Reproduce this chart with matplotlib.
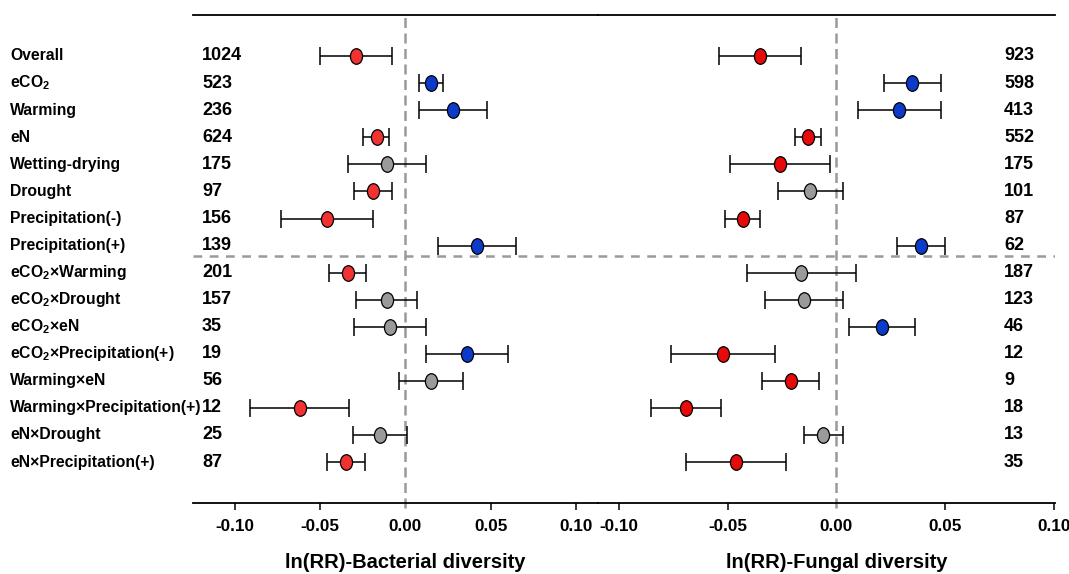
import matplotlib
matplotlib.use("Agg")
import matplotlib.pyplot as plt
from matplotlib import font_manager as fm
from matplotlib.markers import MarkerStyle
from matplotlib.transforms import Affine2D, blended_transform_factory
import numpy as np

# ---------------- data ----------------
labels = ["Overall", "eCO$_2$", "Warming", "eN", "Wetting-drying", "Drought",
          "Precipitation(-)", "Precipitation(+)",
          "eCO$_2$×Warming", "eCO$_2$×Drought", "eCO$_2$×eN",
          "eCO$_2$×Precipitation(+)", "Warming×eN", "Warming×Precipitation(+)",
          "eN×Drought", "eN×Precipitation(+)"]

n_bact = [1024, 523, 236, 624, 175, 97, 156, 139, 201, 157, 35, 19, 56, 12, 25, 87]
n_fung = [923, 598, 413, 552, 175, 101, 87, 62, 187, 123, 46, 12, 9, 18, 13, 35]

bact_mean = [-0.029, 0.015, 0.028, -0.017, -0.011, -0.019, -0.046, 0.042,
             -0.034, -0.011, -0.009, 0.036, 0.015, -0.062, -0.015, -0.035]
bact_lo = [-0.050, 0.008, 0.008, -0.025, -0.034, -0.030, -0.073, 0.019,
           -0.045, -0.029, -0.030, 0.012, -0.004, -0.091, -0.031, -0.046]
bact_hi = [-0.008, 0.022, 0.048, -0.0095, 0.012, -0.008, -0.019, 0.065,
           -0.023, 0.007, 0.012, 0.060, 0.034, -0.033, 0.001, -0.024]

fung_mean = [-0.035, 0.035, 0.029, -0.013, -0.026, -0.012, -0.043, 0.039,
             -0.016, -0.015, 0.021, -0.052, -0.021, -0.069, -0.006, -0.046]
fung_lo = [-0.054, 0.022, 0.010, -0.019, -0.049, -0.027, -0.051, 0.028,
           -0.041, -0.033, 0.006, -0.076, -0.034, -0.085, -0.015, -0.069]
fung_hi = [-0.016, 0.048, 0.048, -0.007, -0.003, 0.003, -0.035, 0.050,
           0.009, 0.003, 0.036, -0.028, -0.008, -0.053, 0.003, -0.023]

xticks = [-0.10, -0.05, 0.00, 0.05, 0.10]
xlabel_bact = "ln(RR)-Bacterial diversity"
xlabel_fung = "ln(RR)-Fungal diversity"

# ---------------- fonts ----------------
names = {f.name for f in fm.fontManager.ttflist}
if "Liberation Sans Narrow" in names:
    fam = "Liberation Sans Narrow"
    fs_row, fs_n, fs_tick, fs_lab = 14, 14.5, 13.5, 16
else:
    fam = "Liberation Sans"
    fs_row, fs_n, fs_tick, fs_lab = 11.3, 13, 12.3, 14.5
plt.rcParams["font.family"] = [fam, "DejaVu Sans"]
plt.rcParams["font.weight"] = "bold"
plt.rcParams["mathtext.fontset"] = "custom"
plt.rcParams["mathtext.rm"] = fam + ":bold"
plt.rcParams["mathtext.it"] = fam + ":bold"
plt.rcParams["mathtext.bf"] = fam + ":bold"
plt.rcParams["mathtext.default"] = "rm"

W, H = 1069, 574
fig = plt.figure(figsize=(W / 100, H / 100), dpi=100)

x_l, x_m, x_r = 192.7, 598.0, 1055.0
y_top, y_bot = 14.7, 503.3
axL = fig.add_axes([x_l / W, (H - y_bot) / H, (x_m - x_l) / W, (y_bot - y_top) / H])
axR = fig.add_axes([x_m / W, (H - y_bot) / H, (x_r - x_m) / W, (y_bot - y_top) / H])

ypos = np.arange(len(labels))
marker = MarkerStyle("o", transform=Affine2D().scale(0.78, 1.0))

RED_L, RED_R, BLUE, GREY = "#F03232", "#E60A0A", "#0B3BC8", "#9A9A9A"


def colour(lo, hi, red):
    if hi < 0:
        return red
    if lo > 0:
        return BLUE
    return GREY


def panel(ax, mean, lo, hi, xlim, red):
    mean, lo, hi = map(np.asarray, (mean, lo, hi))
    ax.errorbar(mean, ypos, xerr=[mean - lo, hi - mean], fmt="none",
                ecolor="black", elinewidth=1.1, capsize=6.5, capthick=1.1, zorder=3)
    for m, l, h, y in zip(mean, lo, hi, ypos):
        ax.plot([m], [y], linestyle="none", marker=marker, markersize=11.2,
                markerfacecolor=colour(l, h, red), markeredgecolor="black",
                markeredgewidth=0.9, zorder=4)
    ax.axvline(0, ymin=-0.01, ymax=1, color="#9A9A9A", lw=1.8,
               linestyle=(0, (4, 2.2)), zorder=1, clip_on=False)
    ax.axhline(7.38, color="#9A9A9A", lw=1.8, linestyle=(0, (3.5, 3)), zorder=1)
    ax.set_xlim(*xlim)
    ax.set_ylim(16.52, -1.53)
    ax.set_yticks([])
    ax.set_xticks(xticks)
    ax.set_xticklabels([f"{t:.2f}" for t in xticks], fontsize=fs_tick, fontweight="bold")
    ax.tick_params(axis="x", direction="out", length=5, width=1.1, pad=6)
    for t, tl in zip(ax.xaxis.get_major_ticks(), xticks):
        if tl == 0:
            t.tick1line.set_visible(False)
    for s in ("left", "right"):
        ax.spines[s].set_visible(False)
    for s in ("top", "bottom"):
        ax.spines[s].set_linewidth(1.3)
    ax.patch.set_visible(False)


panel(axL, bact_mean, bact_lo, bact_hi, (-0.1249, 0.113), RED_L)
panel(axR, fung_mean, fung_lo, fung_hi, (-0.1096, 0.1006), RED_R)


def ypix(i):
    return 56.0 + i * 27.07


for i, lab in enumerate(labels):
    yf = 1 - ypix(i) / H
    fig.text(10 / W, yf, lab, ha="left", va="center", fontsize=fs_row, fontweight="bold")
    fig.text(202 / W, yf, str(n_bact[i]), ha="left", va="center", fontsize=fs_n,
             fontweight="bold")
    fig.text(1004 / W, yf, str(n_fung[i]), ha="left", va="center", fontsize=fs_n,
             fontweight="bold")

for ax, txt in ((axL, xlabel_bact), (axR, xlabel_fung)):
    tr = blended_transform_factory(ax.transData, fig.transFigure)
    ax.text(0.0, 1 - 563 / H, txt, transform=tr, ha="center", va="center",
            fontsize=fs_lab, fontweight="bold", clip_on=False)

fig.savefig("out.png", dpi=100)
